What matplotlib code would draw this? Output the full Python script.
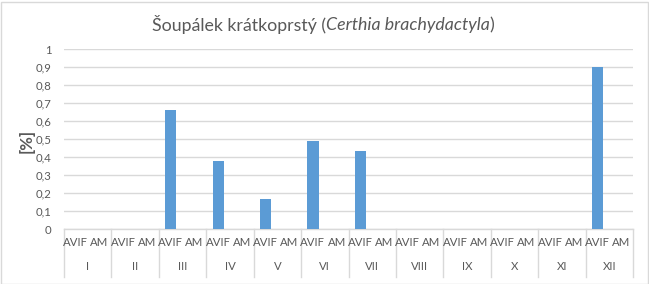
import matplotlib
matplotlib.use("Agg")
import matplotlib.pyplot as plt
from matplotlib.patches import Rectangle
from matplotlib.transforms import blended_transform_factory

months = ["I", "II", "III", "IV", "V", "VI", "VII", "VIII", "IX", "X", "XI", "XII"]
subcats = ["AVIF", "AM"]
avif = [0, 0, 0.661, 0.378, 0.167, 0.489, 0.433, 0, 0, 0, 0, 0.902]
am = [0] * 12
yticks = [0, 0.1, 0.2, 0.3, 0.4, 0.5, 0.6, 0.7, 0.8, 0.9, 1]
ytick_labels = ["0", "0,1", "0,2", "0,3", "0,4", "0,5", "0,6", "0,7", "0,8", "0,9", "1"]

FONT = "Lato"
TXT = "#595959"
GRID = "#d9d9d9"
BAR = "#5b9bd5"

W, H = 649, 284
fig = plt.figure(figsize=(W / 100, H / 100), dpi=100)
fig.patch.set_facecolor("white")
fig.patches.append(Rectangle((0.5 / W, 0.5 / H), 1 - 2 / W, 1 - 2 / H, transform=fig.transFigure,
                             fill=False, edgecolor=GRID, linewidth=1))

left, right, bottom, top = 64, 633, 229, 49
ax = fig.add_axes([left / W, 1 - bottom / H, (right - left) / W, (bottom - top) / H])
ax.set_facecolor("white")

n = len(months)
x_avif = [2 * i for i in range(n)]
x_am = [2 * i + 1 for i in range(n)]
ax.bar(x_avif, avif, width=0.47, color=BAR, zorder=3)
ax.bar(x_am, am, width=0.47, color=BAR, zorder=3)

ax.set_xlim(-0.5, 2 * n - 0.5)
ax.set_ylim(0, 1)
ax.set_yticks(yticks)
ax.set_yticklabels(ytick_labels, fontfamily=FONT, fontsize=8.2, color=TXT)
ax.tick_params(axis="y", length=0, pad=9)
ax.set_xticks([])
ax.grid(axis="y", color=GRID, linewidth=1, zorder=0)
for s in ["top", "right", "left"]:
    ax.spines[s].set_visible(False)
ax.spines["bottom"].set_color(GRID)
ax.spines["bottom"].set_linewidth(1)

ah = bottom - top
tr = blended_transform_factory(ax.transData, ax.transAxes)
for i, m in enumerate(months):
    for j, sc in enumerate(subcats):
        ax.text(2 * i + j, -14 / ah, sc, transform=tr, ha="center", va="center",
                fontfamily=FONT, fontsize=8.2, color=TXT)
    ax.text(2 * i + 0.5, -38 / ah, m, transform=tr, ha="center", va="center",
            fontfamily=FONT, fontsize=8.2, color=TXT)
for k in range(n + 1):
    ax.plot([2 * k - 0.5, 2 * k - 0.5], [0, -48 / ah], transform=tr, color=GRID,
            linewidth=1, clip_on=False)

fig.text(27 / W, 1 - 141 / H, "[%]", rotation=90, ha="center", va="center",
         fontfamily=FONT, fontsize=12, fontweight="bold", color=TXT)

# Title with italic part
parts = [("Šoupálek krátkoprstý (", "normal"), ("Certhia brachydactyla", "italic"), (")", "normal")]
fig.canvas.draw()
r = fig.canvas.get_renderer()
texts = []
widths = []
for s, st in parts:
    t = fig.text(0, 1 - 25 / H, s, ha="left", va="center", fontfamily=FONT, fontsize=12.8,
                 fontstyle=st, color=TXT)
    texts.append(t)
    widths.append(t.get_window_extent(r).width)
total = sum(widths)
x0 = 323 - total / 2
for t, w in zip(texts, widths):
    t.set_x(x0 / W)
    x0 += w

fig.savefig("out.png", dpi=100, facecolor="white")
